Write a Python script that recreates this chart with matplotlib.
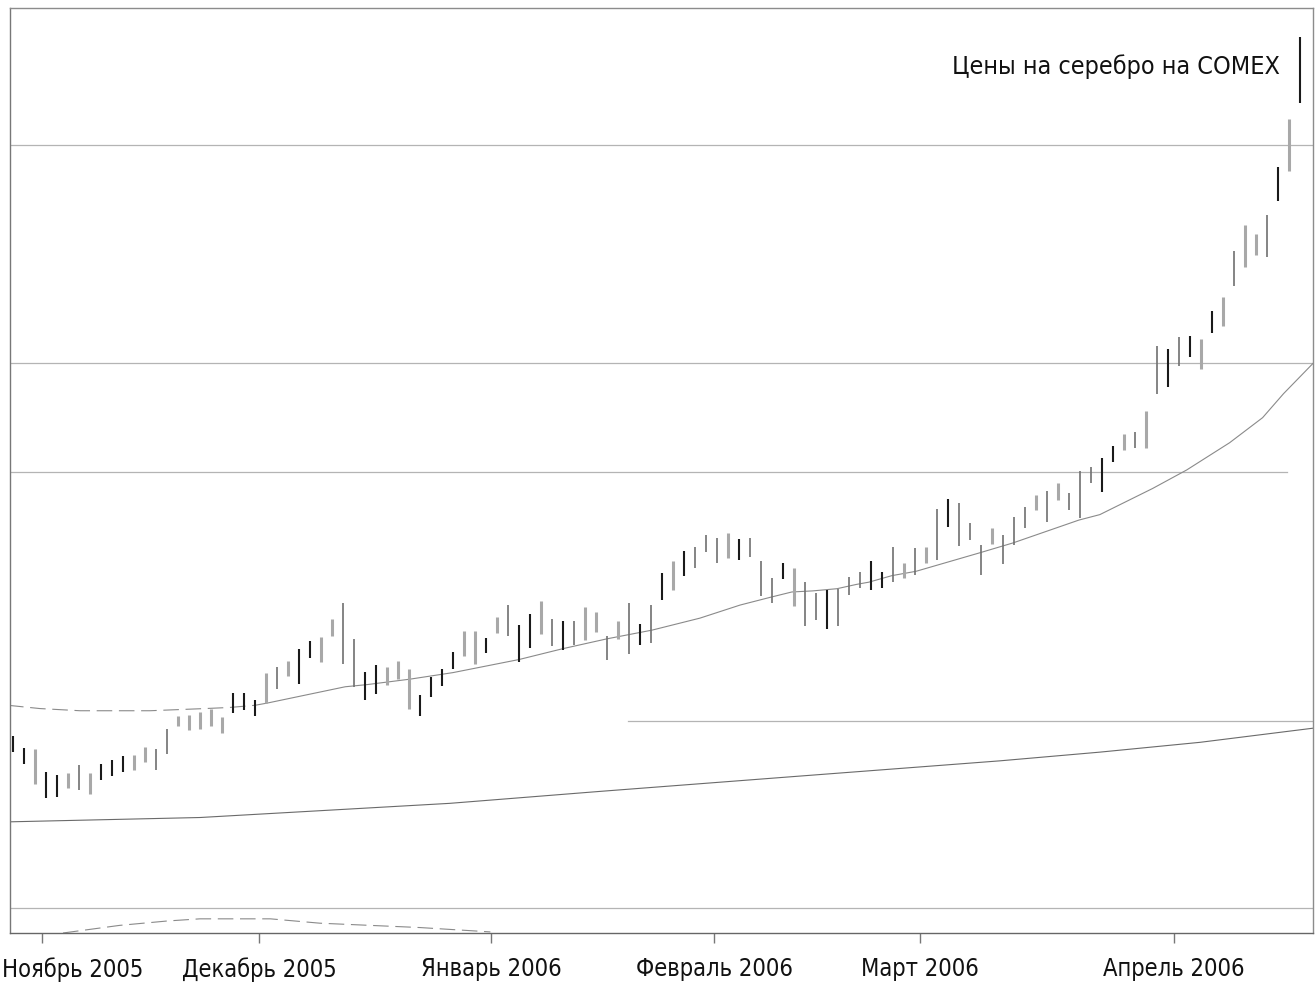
import matplotlib
matplotlib.use("Agg")
import matplotlib.pyplot as plt
import matplotlib.transforms as mtransforms
import numpy as np

# ---------------- data ----------------
highs = [7.58, 7.47, 7.46, 7.25, 7.22, 7.24, 7.31, 7.24, 7.32, 7.36,
         7.39, 7.40, 7.48, 7.46, 7.64, 7.76, 7.77, 7.80, 7.83, 7.75,
         7.97, 7.97, 7.91, 8.16, 8.21, 8.27, 8.38, 8.45, 8.49, 8.65,
         8.80, 8.47, 8.17, 8.23, 8.21, 8.27, 8.19, 7.95, 8.12, 8.19,
         8.35, 8.54, 8.54, 8.48, 8.67, 8.78, 8.60, 8.70, 8.82, 8.65,
         8.63, 8.63, 8.76, 8.72, 8.50, 8.63, 8.80, 8.61, 8.78, 9.07,
         9.18, 9.28, 9.31, 9.42, 9.40, 9.44, 9.39, 9.40, 9.18, 9.03,
         9.17, 9.12, 8.99, 8.89, 8.92, 8.93, 9.04, 9.08, 9.18, 9.08,
         9.31, 9.17, 9.30, 9.31, 9.66, 9.75, 9.72, 9.53, 9.33, 9.49,
         9.42, 9.59, 9.68, 9.79, 9.83, 9.90, 9.81, 10.01, 10.05, 10.13,
         10.24, 10.35, 10.37, 10.56, 11.16, 11.13, 11.24, 11.25, 11.22, 11.48,
         11.61, 12.03, 12.27, 12.19, 12.36, 12.80, 13.24, 13.99]
lows = [7.43, 7.32, 7.14, 7.01, 7.02, 7.10, 7.08, 7.05, 7.17, 7.21,
        7.25, 7.27, 7.34, 7.27, 7.41, 7.67, 7.63, 7.64, 7.67, 7.61,
        7.79, 7.82, 7.76, 7.88, 8.01, 8.13, 8.06, 8.29, 8.26, 8.50,
        8.24, 8.03, 7.91, 7.96, 8.05, 8.10, 7.83, 7.76, 7.94, 8.04,
        8.19, 8.31, 8.24, 8.34, 8.52, 8.50, 8.26, 8.39, 8.51, 8.40,
        8.37, 8.41, 8.46, 8.53, 8.28, 8.47, 8.33, 8.41, 8.43, 8.83,
        8.92, 9.05, 9.12, 9.27, 9.17, 9.21, 9.19, 9.22, 8.86, 8.80,
        9.02, 8.77, 8.59, 8.64, 8.56, 8.59, 8.87, 8.94, 8.92, 8.94,
        8.99, 9.03, 9.06, 9.17, 9.19, 9.50, 9.32, 9.38, 9.06, 9.34,
        9.16, 9.33, 9.49, 9.65, 9.54, 9.74, 9.65, 9.58, 9.90, 9.82,
        10.09, 10.20, 10.22, 10.22, 10.72, 10.78, 10.97, 11.06, 10.95, 11.28,
        11.34, 11.71, 11.88, 11.99, 11.97, 12.49, 12.76, 13.39]
# b = black bar, m = medium grey thin bar, g = light grey bar
bar_kind = list("bbgbbgmgbb" "bggmmggggg" "bbbgmgbbgg" "mmbbgggbbb"
                "bggbgmbbgm" "bmggmgmbmb" "gbmmmgbmmm" "bgmmbmmmbb"
                "mgmgmbmmmg" "mmmgmgmmmb" "bgmgmbmbgb" "gmggmbgb")

# short moving average (bar index, value)
ma_idx = [-0.45, 2.45, 6.1, 12.45, 17.45, 19.7, 22.0, 23.1, 30.2, 32.2,
          36.1, 40.0, 46.0, 50.0, 54.0, 58.1, 62.45, 66.1, 68.8, 70.8,
          72.7, 74.9, 76.7, 77.8, 79.9, 82.1, 87.9, 90.9, 96.9, 98.8,
          103.6, 106.7, 110.6, 113.6, 115.5, 118.2]
ma_val = [7.86, 7.83, 7.81, 7.81, 7.83, 7.84, 7.86, 7.88, 8.03, 8.05,
          8.10, 8.16, 8.28, 8.38, 8.47, 8.55, 8.66, 8.78, 8.85, 8.90,
          8.91, 8.93, 8.97, 8.99, 9.05, 9.09, 9.26, 9.35, 9.56, 9.61,
          9.85, 10.02, 10.27, 10.50, 10.72, 11.00]

# long moving average
lma_idx = [-0.45, 17.0, 39.7, 53.4, 71.5, 89.7, 98.8, 107.9, 118.2]
lma_val = [6.79, 6.83, 6.96, 7.07, 7.21, 7.35, 7.43, 7.52, 7.65]

# lower dashed arc
arc_idx = [4.55, 9.7, 14.0, 17.0, 23.4, 27.9, 37.0, 43.4]
arc_val = [5.77, 5.84, 5.88, 5.90, 5.90, 5.86, 5.82, 5.78]

# horizontal levels
levels = [13.0, 11.0, 10.0, 7.72, 6.0]

month_pos = [2.64, 22.36, 43.45, 63.73, 82.45, 105.55]
month_labels = ["Ноябрь 2005", "Декабрь 2005", "Январь 2006",
                "Февраль 2006", "Март 2006", "Апрель 2006"]

title = "Цены на серебро на COMEX"

# ---------------- plot ----------------
plt.rcParams["font.family"] = ["DejaVu Sans"]
plt.rcParams["font.stretch"] = "condensed"

fig = plt.figure(figsize=(13.15, 9.83), dpi=100)
ax = fig.add_axes([10 / 1315, 1 - 933 / 983, 1303 / 1315, 925 / 983])

# horizontal lines
hl_color = "#b4b4b4"
for lv in levels:
    xmin, xmax = 0.0, 1.0
    if lv == 10.0:
        xmax = 0.980
    if abs(lv - 7.72) < 1e-6:
        xmin = 0.474
    ax.axhline(lv, xmin=xmin, xmax=xmax, color=hl_color, lw=0.9, zorder=1)

# moving averages
ma_idx_a = np.array(ma_idx)
ma_val_a = np.array(ma_val)
cut = 7
ax.plot(ma_idx_a[:cut], ma_val_a[:cut], color="#8a8a8a", lw=0.8,
        dashes=(14, 6), zorder=2)
ax.plot(ma_idx_a[cut - 1:], ma_val_a[cut - 1:], color="#8a8a8a", lw=0.8, zorder=2)
ax.plot(lma_idx, lma_val, color="#6a6a6a", lw=0.8, zorder=2)
ax.plot(arc_idx, arc_val, color="#8a8a8a", lw=0.8, dashes=(14, 6), zorder=2)

# bars
x = np.arange(len(highs))
kinds = np.array(bar_kind)
hi = np.array(highs)
lo = np.array(lows)
styles = {"g": ("#a8a8a8", 2.2, 3), "m": ("#707070", 1.2, 3), "b": ("#1a1a1a", 1.5, 4)}
for k, (col, lw, z) in styles.items():
    sel = kinds == k
    ax.vlines(x[sel], lo[sel], hi[sel], colors=col, lw=lw, zorder=z)

ax.set_xlim(-0.27, 118.18)
ax.set_ylim(5.77, 14.26)
ax.set_yticks([])
ax.set_xticks(month_pos)
ax.set_xticklabels(month_labels, fontsize=17)
ax.tick_params(axis="x", length=7.2, width=1, color="#777777", pad=10,
               labelcolor="#111111")
for sp in ax.spines.values():
    sp.set_color("#8c8c8c")
    sp.set_linewidth(1.0)
ax.spines["left"].set_color("#777777")
ax.spines["bottom"].set_color("#666666")

# first label kept inside the figure
lbl0 = ax.get_xticklabels()[0]
lbl0.set_horizontalalignment("left")
lbl0.set_transform(lbl0.get_transform() +
                   mtransforms.ScaledTranslation(-40 / 100, 0, fig.dpi_scale_trans))

ax.text(0.9747, 0.937, title, transform=ax.transAxes, ha="right", va="center",
        fontsize=18, color="#111111")

fig.savefig("out.png", dpi=100)
